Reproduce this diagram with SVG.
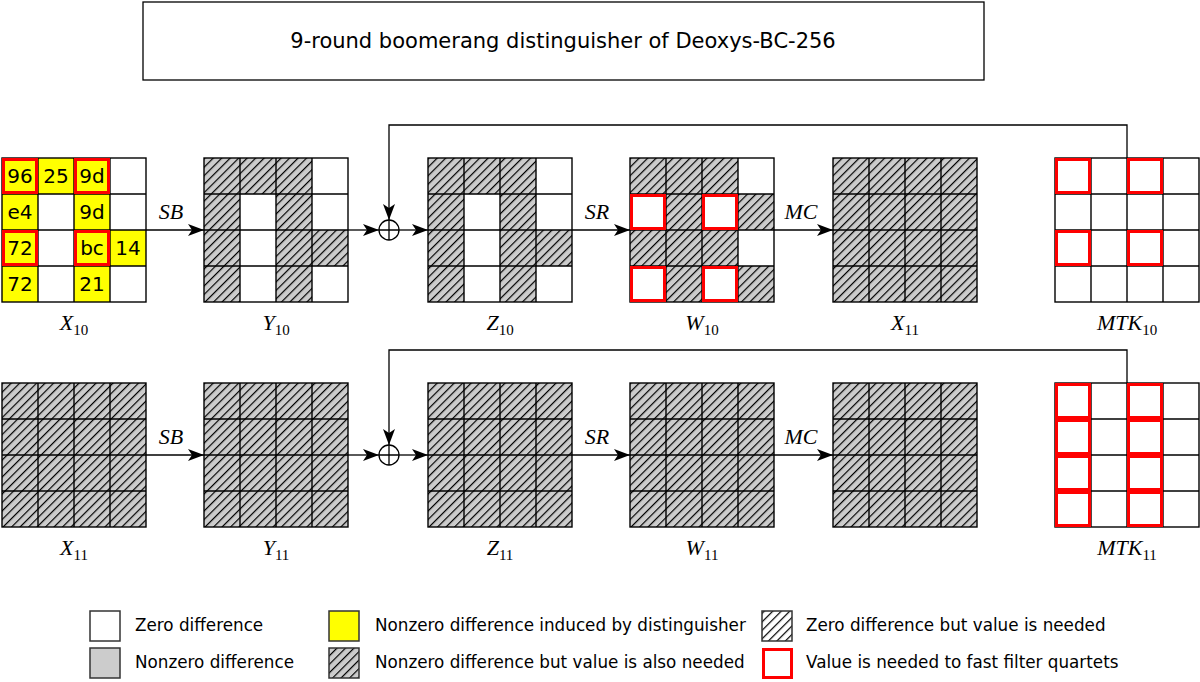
<svg xmlns="http://www.w3.org/2000/svg" xmlns:xlink="http://www.w3.org/1999/xlink" width="1200" height="682" viewBox="0 0 1200 682">
<style>
.w{fill:#fff}.y{fill:#ff0}.h{fill:url(#hg)}.g{fill:#ccc}
.r{fill:none;stroke:#f00;stroke-width:3}
.ln{fill:none;stroke:#000;stroke-width:1.4}
.m{font-family:"Liberation Serif",serif;font-style:italic;font-size:22px;text-anchor:middle}
.s{font-style:normal;font-size:15px}
.t{font-family:"DejaVu Sans",sans-serif;font-size:16.8px}
.c{font-family:"DejaVu Sans",sans-serif;font-size:20px;text-anchor:middle}
</style>
<defs>
<pattern id="hg" patternUnits="userSpaceOnUse" width="6" height="6" patternTransform="rotate(45)"><rect width="6" height="6" fill="#ccc"/><line x1="0.6" y1="0" x2="0.6" y2="6" stroke="#000" stroke-width="1.2"/></pattern>
<pattern id="hw" patternUnits="userSpaceOnUse" width="6" height="6" patternTransform="rotate(45)"><rect width="6" height="6" fill="#fff"/><line x1="0.6" y1="0" x2="0.6" y2="6" stroke="#000" stroke-width="1.2"/></pattern>
<g id="gl"><rect width="144" height="144" class="ln"/><path class="ln" d="M36 0V144M72 0V144M108 0V144M0 36H144M0 72H144M0 108H144"/></g>
<marker id="ah" viewBox="0 0 16 12" refX="16" refY="6" markerWidth="16" markerHeight="12" markerUnits="userSpaceOnUse" orient="auto"><path d="M0 0L16 6L0 12L4 6Z"/></marker>
</defs>
<rect x="143" y="2" width="841" height="78" fill="#fff" stroke="#000" stroke-width="1.3"/>
<text x="563" y="48" class="t" style="font-size:21px" text-anchor="middle">9-round boomerang distinguisher of Deoxys-BC-256</text>

<g id="connectors" stroke="#000" stroke-width="1.3" fill="none">
<line x1="146" y1="230" x2="204" y2="230" marker-end="url(#ah)"/>
<line x1="348" y1="230" x2="379" y2="230" marker-end="url(#ah)"/>
<line x1="399" y1="230" x2="428" y2="230" marker-end="url(#ah)"/>
<line x1="572" y1="230" x2="630" y2="230" marker-end="url(#ah)"/>
<line x1="774" y1="230" x2="833" y2="230" marker-end="url(#ah)"/>
<path d="M1127 158V125H389V220" marker-end="url(#ah)"/>
<circle cx="389" cy="230" r="10" fill="#fff"/><path d="M379 230H399M389 220V240"/>
<line x1="146" y1="455" x2="204" y2="455" marker-end="url(#ah)"/>
<line x1="348" y1="455" x2="379" y2="455" marker-end="url(#ah)"/>
<line x1="399" y1="455" x2="428" y2="455" marker-end="url(#ah)"/>
<line x1="572" y1="455" x2="630" y2="455" marker-end="url(#ah)"/>
<line x1="774" y1="455" x2="833" y2="455" marker-end="url(#ah)"/>
<path d="M1127 383V350H389V445" marker-end="url(#ah)"/>
<circle cx="389" cy="455" r="10" fill="#fff"/><path d="M379 455H399M389 445V465"/>
</g>
<g id="oplabels">
<text x="171" y="219" class="m">SB</text><text x="597" y="219" class="m">SR</text><text x="801" y="219" class="m">MC</text>
<text x="171" y="444" class="m">SB</text><text x="597" y="444" class="m">SR</text><text x="801" y="444" class="m">MC</text>
</g>

<g id="X10" transform="translate(2,158)">
<rect width="144" height="144" class="w"/>
<rect x="0" y="0" width="36" height="36" class="y"/><rect x="36" y="0" width="36" height="36" class="y"/><rect x="72" y="0" width="36" height="36" class="y"/>
<rect x="0" y="36" width="36" height="36" class="y"/><rect x="72" y="36" width="36" height="36" class="y"/>
<rect x="0" y="72" width="36" height="36" class="y"/><rect x="72" y="72" width="36" height="36" class="y"/><rect x="108" y="72" width="36" height="36" class="y"/>
<rect x="0" y="108" width="36" height="36" class="y"/><rect x="72" y="108" width="36" height="36" class="y"/>
<use xlink:href="#gl"/>
<rect x="1.5" y="1.5" width="33" height="33" class="r"/><rect x="73.5" y="1.5" width="33" height="33" class="r"/>
<rect x="1.5" y="73.5" width="33" height="33" class="r"/><rect x="73.5" y="73.5" width="33" height="33" class="r"/>
<text x="18" y="25" class="c">96</text><text x="54" y="25" class="c">25</text><text x="90" y="25" class="c">9d</text>
<text x="18" y="61" class="c">e4</text><text x="90" y="61" class="c">9d</text>
<text x="18" y="97" class="c">72</text><text x="90" y="97" class="c">bc</text><text x="126" y="97" class="c">14</text>
<text x="18" y="133" class="c">72</text><text x="90" y="133" class="c">21</text>
</g>
<text x="74" y="330" class="m">X<tspan class="s" dy="5">10</tspan></text>

<g id="Y10" transform="translate(204,158)">
<rect width="144" height="144" class="w"/>
<rect x="0" y="0" width="108" height="36" class="h"/>
<rect x="0" y="36" width="36" height="108" class="h"/><rect x="72" y="36" width="36" height="108" class="h"/><rect x="108" y="72" width="36" height="36" class="h"/>
<use xlink:href="#gl"/>
</g>
<text x="276" y="330" class="m">Y<tspan class="s" dy="5">10</tspan></text>

<g id="Z10" transform="translate(428,158)">
<rect width="144" height="144" class="w"/>
<rect x="0" y="0" width="108" height="36" class="h"/>
<rect x="0" y="36" width="36" height="108" class="h"/><rect x="72" y="36" width="36" height="108" class="h"/><rect x="108" y="72" width="36" height="36" class="h"/>
<use xlink:href="#gl"/>
</g>
<text x="500" y="330" class="m">Z<tspan class="s" dy="5">10</tspan></text>

<g id="W10" transform="translate(630,158)">
<rect width="144" height="144" class="h"/>
<rect x="108" y="0" width="36" height="36" class="w"/><rect x="108" y="72" width="36" height="36" class="w"/>
<rect x="0" y="36" width="36" height="36" class="w"/><rect x="72" y="36" width="36" height="36" class="w"/>
<rect x="0" y="108" width="36" height="36" class="w"/><rect x="72" y="108" width="36" height="36" class="w"/>
<use xlink:href="#gl"/>
<rect x="1.5" y="37.5" width="33" height="33" class="r"/><rect x="73.5" y="37.5" width="33" height="33" class="r"/>
<rect x="1.5" y="109.5" width="33" height="33" class="r"/><rect x="73.5" y="109.5" width="33" height="33" class="r"/>
</g>
<text x="702" y="330" class="m">W<tspan class="s" dy="5">10</tspan></text>

<g id="X11a" transform="translate(833,158)"><rect width="144" height="144" class="h"/><use xlink:href="#gl"/></g>
<text x="905" y="330" class="m">X<tspan class="s" dy="5">11</tspan></text>

<g id="MTK10" transform="translate(1055,158)">
<rect width="144" height="144" class="w"/><use xlink:href="#gl"/>
<rect x="1.5" y="1.5" width="33" height="33" class="r"/><rect x="73.5" y="1.5" width="33" height="33" class="r"/>
<rect x="1.5" y="73.5" width="33" height="33" class="r"/><rect x="73.5" y="73.5" width="33" height="33" class="r"/>
</g>
<text x="1127" y="330" class="m">MTK<tspan class="s" dy="5">10</tspan></text>

<g id="X11" transform="translate(2,383)"><rect width="144" height="144" class="h"/><use xlink:href="#gl"/></g>
<text x="74" y="555" class="m">X<tspan class="s" dy="5">11</tspan></text>
<g id="Y11" transform="translate(204,383)"><rect width="144" height="144" class="h"/><use xlink:href="#gl"/></g>
<text x="276" y="555" class="m">Y<tspan class="s" dy="5">11</tspan></text>
<g id="Z11" transform="translate(428,383)"><rect width="144" height="144" class="h"/><use xlink:href="#gl"/></g>
<text x="500" y="555" class="m">Z<tspan class="s" dy="5">11</tspan></text>
<g id="W11" transform="translate(630,383)"><rect width="144" height="144" class="h"/><use xlink:href="#gl"/></g>
<text x="702" y="555" class="m">W<tspan class="s" dy="5">11</tspan></text>
<g id="X12" transform="translate(833,383)"><rect width="144" height="144" class="h"/><use xlink:href="#gl"/></g>
<g id="MTK11" transform="translate(1055,383)">
<rect width="144" height="144" class="w"/><use xlink:href="#gl"/>
<rect x="1.5" y="1.5" width="33" height="33" class="r"/><rect x="73.5" y="1.5" width="33" height="33" class="r"/>
<rect x="1.5" y="37.5" width="33" height="33" class="r"/><rect x="73.5" y="37.5" width="33" height="33" class="r"/>
<rect x="1.5" y="73.5" width="33" height="33" class="r"/><rect x="73.5" y="73.5" width="33" height="33" class="r"/>
<rect x="1.5" y="109.5" width="33" height="33" class="r"/><rect x="73.5" y="109.5" width="33" height="33" class="r"/>
</g>
<text x="1127" y="555" class="m">MTK<tspan class="s" dy="5">11</tspan></text>

<g id="legend">
<rect x="90" y="611" width="30" height="30" fill="#fff" stroke="#333" stroke-width="1.5"/>
<text x="135" y="631" class="t">Zero difference</text>
<rect x="90" y="648" width="30" height="30" fill="#ccc" stroke="#333" stroke-width="1.5"/>
<text x="135" y="668" class="t">Nonzero difference</text>
<rect x="329" y="611" width="30" height="30" fill="#ff0" stroke="#333" stroke-width="1.5"/>
<text x="375" y="631" class="t">Nonzero difference induced by distinguisher</text>
<rect x="329" y="648" width="30" height="30" fill="url(#hg)" stroke="#333" stroke-width="1.5"/>
<text x="375" y="668" class="t">Nonzero difference but value is also needed</text>
<rect x="762" y="611" width="30" height="30" fill="url(#hw)" stroke="#333" stroke-width="1.5"/>
<text x="806" y="631" class="t">Zero difference but value is needed</text>
<rect x="763.5" y="649.5" width="28" height="28" fill="#fff" stroke="#f00" stroke-width="3"/>
<text x="806" y="668" class="t">Value is needed to fast filter quartets</text>
</g>
</svg>
